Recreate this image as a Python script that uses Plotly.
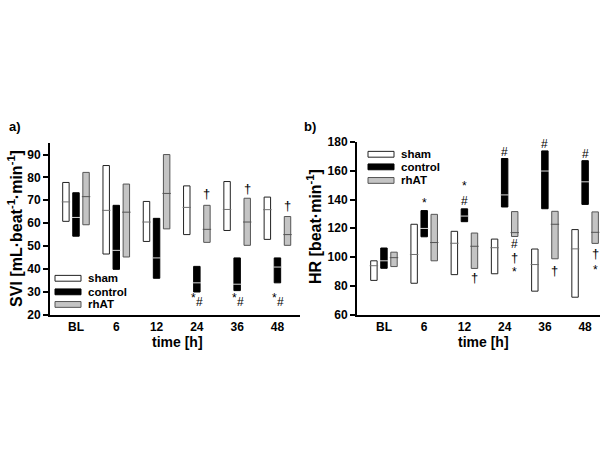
import plotly.graph_objects as go

categories = ["BL", "6", "12", "24", "36", "48"]
groups = ["sham", "control", "rhAT"]

# SVI panel (a): min / max / median per group
svi_sham_min = [60.8, 46.5, 52.0, 55.0, 56.8, 52.9]
svi_sham_max = [77.8, 85.2, 69.5, 76.3, 78.2, 71.4]
svi_sham_med = [69.3, 65.6, 60.5, 66.9, 66.0, 65.9]
svi_ctrl_min = [54.3, 39.8, 35.9, 29.9, 30.5, 33.9]
svi_ctrl_max = [73.3, 67.8, 62.1, 41.1, 44.8, 44.8]
svi_ctrl_med = [62.5, 48.1, 44.8, 33.9, 33.3, 40.8]
svi_rhat_min = [59.3, 45.2, 57.5, 51.6, 50.3, 50.3]
svi_rhat_max = [82.2, 77.1, 90.0, 67.8, 70.9, 62.9]
svi_rhat_med = [71.6, 64.8, 73.0, 57.3, 60.5, 55.0]

# HR panel (b)
hr_sham_min = [83.8, 81.8, 87.8, 88.4, 76.3, 72.1]
hr_sham_max = [97.4, 122.8, 117.9, 112.5, 105.6, 119.1]
hr_sham_med = [94.0, 101.8, 109.6, 106.5, 94.8, 105.7]
hr_ctrl_min = [92.2, 114.1, 124.6, 134.8, 133.6, 136.6]
hr_ctrl_max = [106.3, 132.3, 133.5, 168.5, 173.8, 167.0]
hr_ctrl_med = [97.4, 119.9, 128.5, 143.2, 159.8, 152.3]
hr_rhat_min = [93.4, 97.4, 92.1, 114.3, 98.8, 109.5]
hr_rhat_max = [103.4, 129.7, 116.7, 131.6, 131.8, 131.4]
hr_rhat_med = [99.6, 110.1, 107.5, 117.0, 122.8, 117.2]

# significance marks: (category index, group, symbol, y)
svi_marks = [
    (3, "rhAT", "†", 73.1), (4, "rhAT", "†", 75.3), (5, "rhAT", "†", 67.9),
    (3, "control", "*#", 26.3), (4, "control", "*#", 26.3), (5, "control", "*#", 26.3),
]
hr_marks = [
    (1, "control", "*", 139.9),
    (2, "control", "#", 139.2), (2, "control", "*", 151.2),
    (3, "control", "#", 172.7), (3, "control", "*", 184.8),
    (4, "control", "#", 178.4), (4, "control", "*", 190.4),
    (5, "control", "#", 171.6), (5, "control", "*", 184.0),
    (2, "rhAT", "†", 86.0),
    (3, "rhAT", "#", 108.8), (3, "rhAT", "†", 100.0), (3, "rhAT", "*", 91.8),
    (4, "rhAT", "†", 90.4),
    (5, "rhAT", "†", 102.6), (5, "rhAT", "*", 93.0),
]

FONT = "Liberation Sans, Arial, sans-serif"
offsets = {"sham": -0.25, "control": 0.0, "rhAT": 0.25}
fills = {"sham": "white", "control": "black", "rhAT": "#c4c4c4"}
outlines = {"sham": "#222222", "control": "black", "rhAT": "#555555"}
medcol = {"sham": "#707070", "control": "#d8d8d8", "rhAT": "#555555"}
BW = 0.16

fig = go.Figure()

def add_panel(data, xa, ya):
    for g in groups:
        mn, mx, md = data[g]
        xs = [i + offsets[g] for i in range(len(categories))]
        fig.add_trace(go.Bar(
            x=xs, y=[b - a for a, b in zip(mn, mx)], base=mn, width=BW,
            marker=dict(color=fills[g], line=dict(color=outlines[g], width=1)),
            xaxis=xa, yaxis=ya, showlegend=False, name=g))
        fig.add_trace(go.Scatter(
            x=xs, y=md, mode="markers", xaxis=xa, yaxis=ya, showlegend=False,
            marker=dict(symbol="line-ew", size=6,
                        line=dict(color=medcol[g], width=1)),
            hoverinfo="skip"))

add_panel({"sham": (svi_sham_min, svi_sham_max, svi_sham_med),
           "control": (svi_ctrl_min, svi_ctrl_max, svi_ctrl_med),
           "rhAT": (svi_rhat_min, svi_rhat_max, svi_rhat_med)}, "x", "y")
add_panel({"sham": (hr_sham_min, hr_sham_max, hr_sham_med),
           "control": (hr_ctrl_min, hr_ctrl_max, hr_ctrl_med),
           "rhAT": (hr_rhat_min, hr_rhat_max, hr_rhat_med)}, "x2", "y2")

annots = []
def mark_font(s):
    return dict(family=FONT, size=13 if s == "†" else 12, color="#000000")

def add_marks(marks, xr, yr):
    for i, g, s, y in marks:
        x = i + offsets[g]
        if s == "*#":
            annots.append(dict(x=x - 0.075, y=y + 1.0, xref=xr, yref=yr, text="*",
                               xanchor="center", yanchor="middle",
                               showarrow=False, font=mark_font("*")))
            annots.append(dict(x=x + 0.075, y=y - 0.6, xref=xr, yref=yr, text="#",
                               xanchor="center", yanchor="middle",
                               showarrow=False, font=mark_font("#")))
        else:
            yy = y - (1.2 if xr == "x" else 2.0) if s == "*" else y
            annots.append(dict(x=x, y=yy, xref=xr, yref=yr, text=s, showarrow=False,
                               xanchor="center", yanchor="middle", font=mark_font(s)))

add_marks(svi_marks, "x", "y")
add_marks(hr_marks, "x2", "y2")

W, H = 600, 450
def px(x): return x / W
def py(y): return 1 - y / H

def pa(x, y, text, size, angle=0, xanchor="center"):
    return dict(x=px(x), y=py(y), xref="paper", yref="paper", text=text,
                showarrow=False, textangle=angle, xanchor=xanchor, yanchor="middle",
                font=dict(family=FONT, size=size, color="black", weight="bold"))

# axis titles and panel labels
annots += [
    pa(177, 346, "time [h]", 14),
    pa(483, 346, "time [h]", 14),
    pa(15, 229, "SVI [mL·beat<sup>-1</sup>·min<sup>-1</sup>]", 16, -90),
    pa(314, 227, "HR [beat·min<sup>-1</sup>]", 16, -90),
    pa(7, 123, "a)", 13, xanchor="left"),
    pa(302, 123, "b)", 13, xanchor="left"),
]

# legends
shapes = []
def add_legend(x0, ys):
    for g, yc in zip(groups, ys):
        shapes.append(dict(type="rect", xref="paper", yref="paper",
                           x0=px(x0), x1=px(x0 + 26), y0=py(yc + 3), y1=py(yc - 3),
                           fillcolor=fills[g], line=dict(color=outlines[g], width=1)))
        annots.append(pa(x0 + 31, yc, g, 11.5, xanchor="left"))

add_legend(55, [280, 294, 307])
add_legend(368, [152, 165, 179])

axis_common = dict(showline=True, linecolor="black", linewidth=2, showgrid=False,
                   zeroline=False,
                   tickfont=dict(family=FONT, size=12, color="black", weight="bold"))

fig.update_layout(
    width=W, height=H, margin=dict(l=0, r=0, t=0, b=0),
    paper_bgcolor="white", plot_bgcolor="white", showlegend=False,
    annotations=annots, shapes=shapes,
    xaxis=dict(domain=[px(50), px(300)], range=[-0.645, 5.56],
               tickvals=list(range(len(categories))), ticktext=categories,
               ticks="", anchor="y", **axis_common),
    yaxis=dict(domain=[py(317.5), py(140.5)], range=[20, 95],
               tickvals=[20, 30, 40, 50, 60, 70, 80, 90],
               ticks="outside", ticklen=5, tickwidth=1.5, tickcolor="black",
               anchor="x", **axis_common),
    xaxis2=dict(domain=[px(357), px(600)], range=[-0.67, 5.37],
                tickvals=list(range(len(categories))), ticktext=categories,
                ticks="", anchor="y2", **axis_common),
    yaxis2=dict(domain=[py(317.5), py(139.3)], range=[60, 180],
                tickvals=[60, 80, 100, 120, 140, 160, 180],
                ticks="outside", ticklen=5, tickwidth=1.5, tickcolor="black",
                anchor="x2", **axis_common),
)

fig.write_html("out.html", config={"displayModeBar": False},
               post_script="document.body.style.margin='0';")
